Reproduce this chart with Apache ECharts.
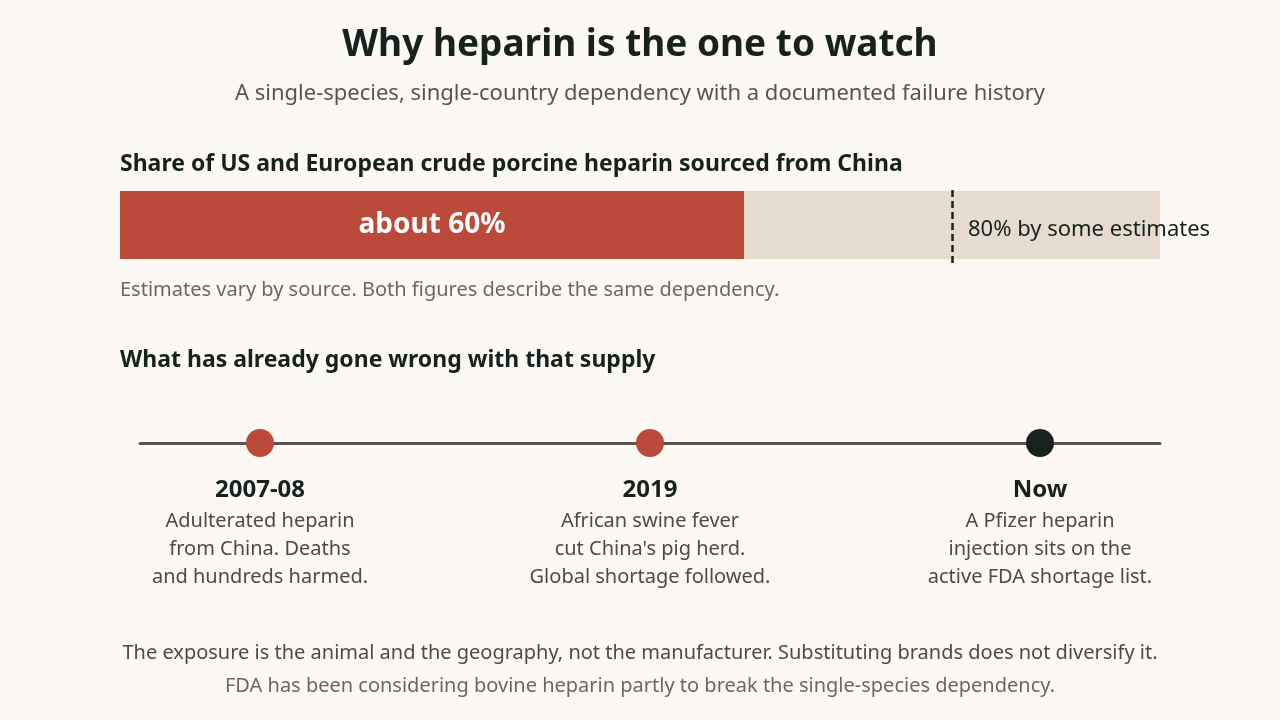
<!DOCTYPE html>
<html>
<head>
<meta charset="utf-8">
<title>Why heparin is the one to watch</title>
<script src="https://cdn.jsdelivr.net/npm/echarts@6/dist/echarts.min.js"></script>
<style>
  html, body { margin: 0; padding: 0; background: #fcf9f5; }
  #chart { width: 1280px; height: 720px; }
</style>
</head>
<body>
<div id="chart"></div>
<script>
// ========================================
// 数据
// ========================================
const shareCategory = ['China share'];
const shareCentral = [60];      // about 60%
const shareHigh = 80;           // 80% by some estimates
const shareTotal = [100];

const eventYears = ['2007-08', '2019', 'Now'];
const eventPos = [0, 1, 2];
const eventText = [
  'Adulterated heparin\nfrom China. Deaths\nand hundreds harmed.',
  'African swine fever\ncut China\'s pig herd.\nGlobal shortage followed.',
  'A Pfizer heparin\ninjection sits on the\nactive FDA shortage list.'
];
const eventColors = ['#bc4a3a', '#bc4a3a', '#17211e'];

const FONT = '"Noto Sans", sans-serif';
const DARK = '#17211e';
const RED = '#bc4a3a';
const BEIGE = '#e5dccd';

const chart = echarts.init(document.getElementById('chart'));

const option = {
  backgroundColor: '#fcf9f5',
  textStyle: { fontFamily: FONT },
  animation: false,
  grid: [
    { left: 120, width: 1040, top: 187, height: 76 },
    { left: 140, width: 1020, top: 403, height: 40 }
  ],
  xAxis: [
    { gridIndex: 0, type: 'value', min: 0, max: 100, show: false },
    {
      gridIndex: 1, type: 'value', min: -0.3077, max: 2.3077,
      axisLine: { show: true, onZero: false, lineStyle: { color: '#5a5550', width: 3 } },
      axisTick: { show: false }, axisLabel: { show: false }, splitLine: { show: false },
      position: 'bottom'
    }
  ],
  yAxis: [
    { gridIndex: 0, type: 'category', data: shareCategory, show: false },
    { gridIndex: 1, type: 'value', min: -1, max: 1, show: false }
  ],
  graphic: [
    {
      type: 'text', left: 'center', top: 27, z: 100,
      style: { text: 'Why heparin is the one to watch', fontFamily: FONT, fontSize: 37, fontWeight: 'bold', fill: DARK }
    },
    {
      type: 'text', left: 'center', top: 83, z: 100,
      style: { text: 'A single-species, single-country dependency with a documented failure history', fontFamily: FONT, fontSize: 22, fill: '#555552' }
    },
    {
      type: 'text', left: 120, top: 153, z: 100,
      style: { text: 'Share of US and European crude porcine heparin sourced from China', fontFamily: FONT, fontSize: 23, fontWeight: 'bold', fill: DARK }
    },
    {
      type: 'text', left: 968, top: 219, z: 100,
      style: { text: '80% by some estimates', fontFamily: FONT, fontSize: 22, fill: DARK }
    },
    {
      type: 'text', left: 120, top: 280, z: 100,
      style: { text: 'Estimates vary by source. Both figures describe the same dependency.', fontFamily: FONT, fontSize: 20, fill: '#6b6864' }
    },
    {
      type: 'text', left: 120, top: 349, z: 100,
      style: { text: 'What has already gone wrong with that supply', fontFamily: FONT, fontSize: 23, fontWeight: 'bold', fill: DARK }
    },
    {
      type: 'text', left: 'center', top: 643, z: 100,
      style: { text: 'The exposure is the animal and the geography, not the manufacturer. Substituting brands does not diversify it.', fontFamily: FONT, fontSize: 20, fill: '#4d4a47' }
    },
    {
      type: 'text', left: 'center', top: 676, z: 100,
      style: { text: 'FDA has been considering bovine heparin partly to break the single-species dependency.', fontFamily: FONT, fontSize: 20, fill: '#6b6864' }
    }
  ],
  series: [
    {
      name: 'total',
      type: 'bar',
      xAxisIndex: 0, yAxisIndex: 0,
      data: shareTotal,
      barWidth: 68,
      barGap: '-100%',
      itemStyle: { color: BEIGE },
      silent: true,
      z: 1
    },
    {
      name: 'China share',
      type: 'bar',
      xAxisIndex: 0, yAxisIndex: 0,
      data: shareCentral,
      barWidth: 68,
      itemStyle: { color: RED },
      label: {
        show: true, position: 'inside',
        formatter: p => 'about ' + p.value + '%',
        fontFamily: FONT, fontSize: 28, fontWeight: 'bold', color: '#ffffff'
      },
      markLine: {
        symbol: 'none',
        silent: true,
        label: { show: false },
        lineStyle: { color: DARK, type: [7, 4], width: 2.5 },
        data: [{ xAxis: shareHigh }]
      },
      z: 2
    },
    {
      name: 'events',
      type: 'scatter',
      xAxisIndex: 1, yAxisIndex: 1,
      symbolSize: 28,
      data: eventPos.map((x, i) => ({
        value: [x, -1],
        itemStyle: { color: eventColors[i], opacity: 1 },
        label: {
          show: true,
          position: 'bottom',
          distance: 16,
          align: 'center',
          formatter: () => '{y|' + eventYears[i] + '}\n{d|' + eventText[i].split('\n').join('}\n{d|') + '}',
          rich: {
            y: { fontFamily: FONT, fontSize: 24, fontWeight: 'bold', color: DARK, lineHeight: 34, align: 'center' },
            d: { fontFamily: FONT, fontSize: 20, color: '#4d4a47', lineHeight: 28, align: 'center' }
          }
        }
      })),
      z: 3
    }
  ]
};

chart.setOption(option);
</script>
</body>
</html>
